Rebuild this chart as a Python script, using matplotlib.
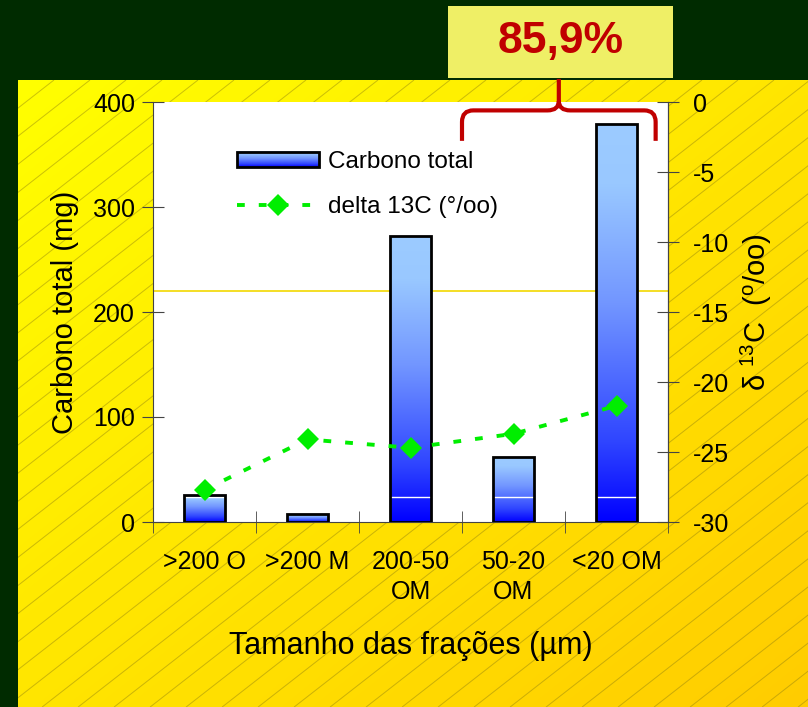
import matplotlib
matplotlib.use("Agg")
import matplotlib.pyplot as plt
import numpy as np
from matplotlib.colors import LinearSegmentedColormap
from matplotlib.image import BboxImage
from matplotlib.legend_handler import HandlerBase
from matplotlib.patches import PathPatch, Rectangle
from matplotlib.path import Path
from matplotlib.transforms import Bbox, TransformedBbox
from matplotlib.collections import LineCollection

plt.rcParams["font.family"] = ["Liberation Sans", "DejaVu Sans"]
plt.rcParams["mathtext.fontset"] = "custom"
plt.rcParams["mathtext.rm"] = "Liberation Sans"
plt.rcParams["mathtext.it"] = "Liberation Sans:italic"
plt.rcParams["axes.unicode_minus"] = False

# fractions and measurements
fracoes = [">200 O", ">200 M", "200-50\nOM", "50-20\nOM", "<20 OM"]
carbono_total = [26, 7.5, 272, 62, 379]          # mg
delta13c = [-27.7, -24.1, -24.7, -23.7, -21.7]   # per mil
linha_ref = 220          # mg, thin yellow reference line
faixa_base = 23.5        # mg, white separator inside the bars
percentual = "85,9%"

bar_cmap = LinearSegmentedColormap.from_list(
    "carbono", [(0.0, "#0000ff"), (0.2, "#2f45ff"), (0.55, "#7296ff"),
                (0.85, "#99c8ff"), (1.0, "#9ccbff")])
grad = np.linspace(0, 1, 256).reshape(-1, 1)


class GradientBarHandler(HandlerBase):
    def create_artists(self, legend, orig_handle, xdescent, ydescent,
                       width, height, fontsize, trans):
        box = Bbox.from_bounds(-xdescent, -ydescent, width, height)
        img = BboxImage(TransformedBbox(box, trans), cmap=bar_cmap,
                        interpolation="bicubic", origin="lower")
        img.set_data(grad)
        edge = Rectangle((-xdescent, -ydescent), width, height,
                         facecolor="none", edgecolor="black", lw=2,
                         transform=trans)
        return [img, edge]


W, H = 808, 707
fig = plt.figure(figsize=(W / 100, H / 100), dpi=100)
fig.patch.set_facecolor("#002b00")

# yellow slide panel with diagonal hatching
pw, ph = W - 18, H - 80
bg = fig.add_axes([18 / W, 0, pw / W, ph / H], zorder=-1)
xs = np.linspace(0, 1, pw)
ys = np.linspace(0, 1, ph)
t = (xs[None, :] + ys[:, None]) / 2
rgb = np.dstack([np.ones_like(t), 1.0 - 0.2 * t, np.zeros_like(t)])
bg.imshow(rgb, extent=(0, pw, 0, ph), aspect="auto")
slope = 0.78
starts = np.arange(-ph / slope, pw, 36)
segs = [[(s, 0), (s + ph / slope, ph)] for s in starts]
bg.add_collection(LineCollection(segs, colors="#8c7c10", linewidths=0.7, alpha=0.45))
bg.set_xlim(0, pw)
bg.set_ylim(0, ph)
bg.axis("off")

ax = fig.add_axes([153 / W, 185 / H, 515 / W, 420 / H])
ax.set_facecolor("white")
x = np.arange(len(fracoes))

bars = ax.bar(x, carbono_total, width=0.39, facecolor="none",
              edgecolor="black", linewidth=2, zorder=3,
              label="Carbono total")
for rect in bars:
    x0, w, h = rect.get_x(), rect.get_width(), rect.get_height()
    im = ax.imshow(grad, cmap=bar_cmap, origin="lower", aspect="auto",
                   extent=(x0, x0 + w, 0, h), interpolation="bicubic", zorder=2)
    im.set_clip_path(rect)
    if h > faixa_base:
        ax.hlines(faixa_base, x0, x0 + w, color="white", lw=1, zorder=2.5)

ax.axhline(linha_ref, color="#f2d800", lw=1.2, zorder=1)

ax.set_xlim(-0.5, len(fracoes) - 0.5)
ax.set_ylim(0, 400)
ax.set_yticks([0, 100, 200, 300, 400])
ax.set_xticks(x)
ax.set_xticklabels(fracoes, linespacing=1.35)
ax.set_xticks(np.arange(-0.5, len(fracoes)), minor=True)
ax.tick_params(axis="x", which="major", length=0, pad=20, labelsize=18)
ax.tick_params(axis="x", which="minor", direction="inout", length=16,
               color="#444444")
ax.tick_params(axis="y", direction="inout", length=16, color="#444444",
               labelsize=18, pad=5)
for side in ["left", "bottom", "right"]:
    ax.spines[side].set_color("#444444")
ax.spines["top"].set_visible(False)
ax.set_ylabel("Carbono total (mg)", fontsize=21, labelpad=10)
ax.set_xlabel("Tamanho das frações (µm)", fontsize=22, labelpad=19)

ax2 = ax.twinx()
ax2.plot(x, delta13c, color="#00ee00", lw=2.8, dashes=(2.0, 3.6),
         marker="D", markersize=11.5, markeredgewidth=0,
         label="delta 13C (°/oo)", zorder=4)
ax2.set_ylim(-30, 0)
ax2.set_yticks(np.arange(-30, 1, 5))
ax2.tick_params(axis="y", direction="inout", length=16, color="#444444",
                labelsize=18, pad=10)
ax2.spines["right"].set_color("#444444")
ax2.spines["top"].set_visible(False)
ax2.spines["left"].set_visible(False)
ax2.spines["bottom"].set_visible(False)
ax2.set_ylabel(r"$\mathregular{δ\ ^{13}C\ \ (^{o}/oo)}$", fontsize=21,
               labelpad=7)

handles = [bars, ax2.get_lines()[0]]
ax2.legend(handles, ["Carbono total", "delta 13C (°/oo)"],
           handler_map={type(bars): GradientBarHandler()},
           loc="upper left", bbox_to_anchor=(0.12, 0.935), frameon=False,
           fontsize=17.5, handlelength=3.4, handleheight=0.6,
           handletextpad=0.35, labelspacing=0.95, numpoints=1)

# brace over the two finest fractions
bx0, bx1 = 2.5, 4.38
bxm = (bx0 + bx1) / 2
y_arm, y_bar, y_tip = 363, 392, 422
rx, ry = 0.11, 11
verts = [(bx0, y_arm), (bx0, y_bar - ry), (bx0, y_bar), (bx0 + rx, y_bar),
         (bxm - rx, y_bar), (bxm, y_bar), (bxm, y_bar + 9), (bxm, y_tip),
         (bxm, y_bar + 9), (bxm, y_bar), (bxm + rx, y_bar),
         (bx1 - rx, y_bar), (bx1, y_bar), (bx1, y_bar - ry), (bx1, y_arm)]
codes = [Path.MOVETO, Path.LINETO, Path.CURVE3, Path.CURVE3,
         Path.LINETO, Path.CURVE3, Path.CURVE3, Path.LINETO,
         Path.MOVETO, Path.CURVE3, Path.CURVE3,
         Path.LINETO, Path.CURVE3, Path.CURVE3, Path.LINETO]
brace = PathPatch(Path(verts, codes), facecolor="none", edgecolor="#c00000",
                  lw=3, clip_on=False, zorder=5, capstyle="butt")
ax.add_patch(brace)

fig.add_artist(Rectangle((448 / W, 1 - 78 / H), 225 / W, 72 / H,
                         transform=fig.transFigure, facecolor="#efef66",
                         edgecolor="none"))
fig.text(561 / W, 1 - 42 / H, percentual, color="#c00000", fontsize=32,
         fontweight="bold", ha="center", va="center")

fig.savefig("out.png", dpi=100, facecolor=fig.get_facecolor())
